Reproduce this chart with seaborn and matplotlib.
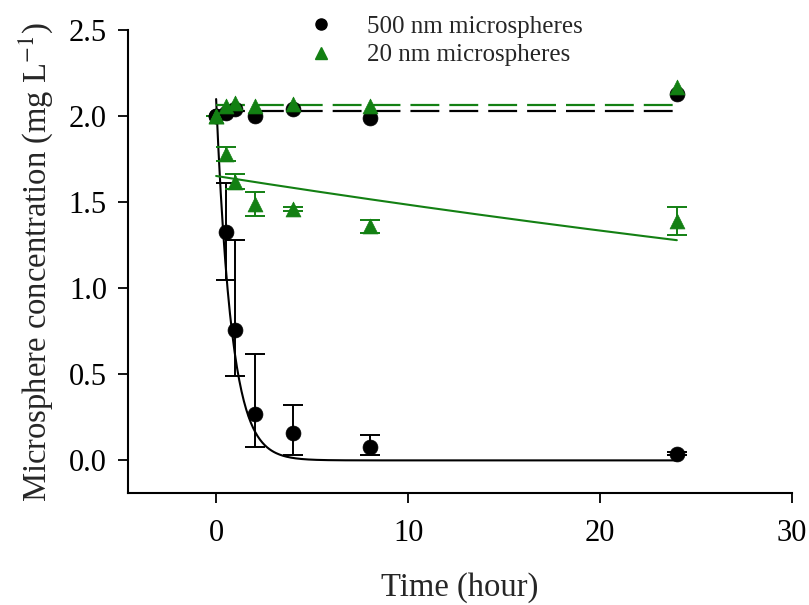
import numpy as np
import pandas as pd
import matplotlib
matplotlib.use("Agg")
import matplotlib.pyplot as plt
import seaborn as sns
from matplotlib.lines import Line2D

# ---- data ----
time_h = [0, 0.5, 1, 2, 4, 8, 24]

# 500 nm microspheres
c500_decay = [2.00, 1.33, 0.76, 0.27, 0.16, 0.08, 0.04]
c500_err_lo = [0.00, 0.28, 0.27, 0.19, 0.13, 0.05, 0.01]
c500_err_hi = [0.00, 0.28, 0.52, 0.35, 0.16, 0.07, 0.01]
c500_ctrl = [2.00, 2.02, 2.04, 2.00, 2.04, 1.99, 2.13]

# 20 nm microspheres
c20_decay = [2.00, 1.78, 1.62, 1.49, 1.46, 1.36, 1.39]
c20_err = [0.00, 0.04, 0.045, 0.07, 0.01, 0.04, 0.08]
c20_ctrl = [2.00, 2.06, 2.08, 2.06, 2.07, 2.06, 2.17]

# fitted model parameters
fit500_a, fit500_k = 2.10, 1.25
fit20_a, fit20_k = 1.653, 0.01066
ctrl500_level = 2.03
ctrl20_level = 2.065

legend_labels = ["500 nm microspheres", "20 nm microspheres"]

black = "#000000"
green = "#138013"

sns.set_style("ticks")
plt.rcParams["font.family"] = ["Liberation Serif", "DejaVu Serif"]
plt.rcParams["mathtext.fontset"] = "stix"

fig = plt.figure(figsize=(8.09, 6.05), dpi=100)
ax = fig.add_axes([0.158, 0.185, 0.821, 0.765])

tfit = np.linspace(0, 24, 400)
fit_df = pd.DataFrame({
    "t": tfit,
    "f500": fit500_a * np.exp(-fit500_k * tfit),
    "f20": fit20_a * np.exp(-fit20_k * tfit),
    "c500": np.full_like(tfit, ctrl500_level),
    "c20": np.full_like(tfit, ctrl20_level),
})

dash = (0, (13, 4.5))
# fitted lines
sns.lineplot(data=fit_df, x="t", y="f500", color=black, lw=1.5, ax=ax)
sns.lineplot(data=fit_df, x="t", y="c500", color=black, lw=1.6, ax=ax,
             linestyle=dash)
sns.lineplot(data=fit_df, x="t", y="f20", color=green, lw=1.5, ax=ax)
sns.lineplot(data=fit_df, x="t", y="c20", color=green, lw=1.6, ax=ax,
             linestyle=dash)

# error bars
ax.errorbar(time_h, c500_decay, yerr=[c500_err_lo, c500_err_hi], fmt="none",
            ecolor=black, elinewidth=1.4, capsize=7, capthick=1.4, zorder=3)
ax.errorbar(time_h, c20_decay, yerr=c20_err, fmt="none",
            ecolor=green, elinewidth=1.4, capsize=7, capthick=1.4, zorder=3)

# points
pts = pd.DataFrame({"t": time_h, "d500": c500_decay, "k500": c500_ctrl,
                    "d20": c20_decay, "k20": c20_ctrl})
sns.scatterplot(data=pts, x="t", y="d500", marker="o", s=115, color=black,
                edgecolor=black, linewidth=0.5, ax=ax, zorder=4)
sns.scatterplot(data=pts, x="t", y="k500", marker="o", s=115, color=black,
                edgecolor=black, linewidth=0.5, ax=ax, zorder=4)
sns.scatterplot(data=pts, x="t", y="d20", marker="^", s=115, color=green,
                edgecolor=green, linewidth=0.5, ax=ax, zorder=5)
sns.scatterplot(data=pts, x="t", y="k20", marker="^", s=115, color=green,
                edgecolor=green, linewidth=0.5, ax=ax, zorder=5)

ax.set_xlim(-4.6, 30)
ax.set_ylim(-0.19, 2.5)
ax.set_xticks([0, 10, 20, 30])
ax.set_yticks([0.0, 0.5, 1.0, 1.5, 2.0, 2.5])
ax.set_yticklabels(["0.0", "0.5", "1.0", "1.5", "2.0", "2.5"])
sns.despine(ax=ax)
for sp in ["left", "bottom"]:
    ax.spines[sp].set_linewidth(1.5)
    ax.spines[sp].set_color("black")
ax.tick_params(direction="out", length=7, width=1.3, labelsize=22, pad=12,
               colors="black")
ax.tick_params(axis="y", pad=8)

ax.set_xlabel("Time (hour)", fontsize=23.5, labelpad=17)
ax.set_ylabel(r"Microsphere concentration (mg L$^{-1}$)", fontsize=23.5,
              labelpad=10)

handles = [Line2D([], [], marker="o", color=black, ls="none", markersize=8),
           Line2D([], [], marker="^", color=green, ls="none", markersize=8)]
leg = fig.legend(handles, legend_labels, loc="upper left",
                 bbox_to_anchor=(0.366, 0.975), bbox_transform=fig.transFigure,
                 frameon=False, fontsize=18, handlelength=2.0,
                 handletextpad=0.85, labelspacing=0.25, borderpad=0,
                 borderaxespad=0)

fig.savefig("out.png", dpi=100)
